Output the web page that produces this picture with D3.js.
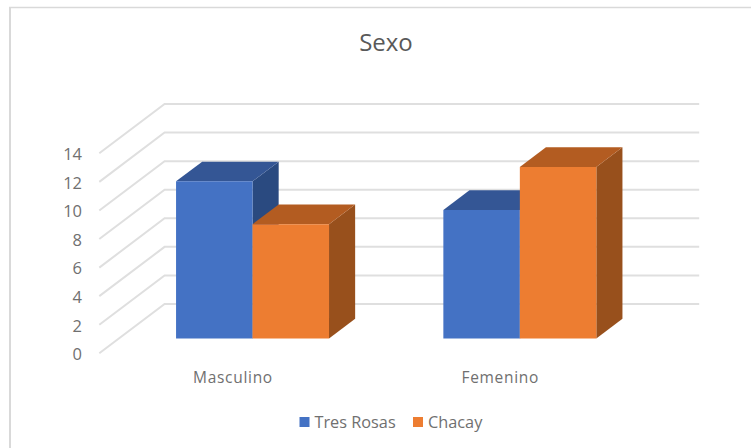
<!DOCTYPE html>
<html>
<head>
<meta charset="utf-8">
<script src="https://cdn.jsdelivr.net/npm/d3@7"></script>
<style>
  html, body { margin: 0; padding: 0; background: #fff; }
  svg { display: block; }
  text { font-family: "Open Sans", "Noto Sans", sans-serif; fill: #707070; }
  .grid { stroke: #dfdfdf; stroke-width: 2; fill: none; }
</style>
</head>
<body>
<div id="chart"></div>
<script>
  "use strict";
  const categories = ["Masculino", "Femenino"];
  const seriesNames = ["Tres Rosas", "Chacay"];
  const tresRosas = [11, 9];
  const chacay = [8, 12];
  const yTicks = [0, 2, 4, 6, 8, 10, 12, 14];
  const frontColors = ["#4472c4", "#ed7d31"];
  const topColors = ["#345695", "#b35c21"];
  const sideColors = ["#2a4a80", "#98501c"];

  const width = 751;
  const height = 448;
  const seriesValues = [tresRosas, chacay];

  const svg = d3
    .select("#chart")
    .append("svg")
    .attr("width", width)
    .attr("height", height)
    .attr("viewBox", `0 0 ${width} ${height}`);

  // Chart frame (cropped at right and bottom in the reference)
  svg
    .append("path")
    .attr("d", "M10,448V7.5")
    .attr("fill", "none")
    .attr("stroke", "#d9d9d9")
    .attr("stroke-width", 2);
  svg
    .append("path")
    .attr("d", "M9,7.5H751")
    .attr("fill", "none")
    .attr("stroke", "#d9d9d9")
    .attr("stroke-width", 1.4);

  // Scales on the front plane, depth runs from 0 (front) to 1 (back wall)
  const x0 = d3
    .scaleBand()
    .domain(categories)
    .range([99.3, 633.9])
    .paddingInner(0.4277)
    .paddingOuter(0.21385);
  const x1 = d3.scaleBand().domain(seriesNames).range([0, x0.bandwidth()]);
  const y = d3.scaleLinear().domain([0, 14]).range([353.3, 153.3]);
  const depthX = d3.scaleLinear().domain([0, 1]).range([0, 65.3]);
  const depthY = d3.scaleLinear().domain([0, 1]).range([0, -49.3]);
  const barFront = 0.3;
  const barBack = 0.7;

  const project = (px, value, z) => [px + depthX(z), y(value) + depthY(z)];
  const poly = (points) => d3.line()(points) + "Z";

  // Gridlines: floor-to-wall diagonal, then along the back wall
  svg
    .append("g")
    .selectAll("path")
    .data(yTicks)
    .enter()
    .append("path")
    .classed("grid", true)
    .attr("d", (d) =>
      d3.line()([
        project(x0.range()[0], d, 0),
        project(x0.range()[0], d, 1),
        project(x0.range()[1], d, 1),
      ])
    );

  // Axis labels
  svg
    .append("g")
    .selectAll("text")
    .data(yTicks)
    .enter()
    .append("text")
    .attr("x", 82)
    .attr("y", (d) => y(d) + 1)
    .attr("dy", "0.35em")
    .attr("text-anchor", "end")
    .attr("font-size", 16.5)
    .text((d) => d);

  svg
    .append("g")
    .selectAll("text")
    .data(categories)
    .enter()
    .append("text")
    .attr("x", (d) => x0(d) + x0.bandwidth() / 2)
    .attr("y", 382.5)
    .attr("text-anchor", "middle")
    .attr("font-size", 15.5)
    .attr("letter-spacing", 0.7)
    .text((d) => d);

  // Bars, one series at a time so the orange hides the blue side
  seriesNames.forEach((name, s) => {
    const bars = svg
      .append("g")
      .selectAll("g")
      .data(categories.map((c, i) => ({ c, value: seriesValues[s][i] })))
      .enter()
      .append("g");
    const left = (d) => x0(d.c) + x1(name);
    const right = (d) => left(d) + x1.bandwidth();

    bars
      .append("path")
      .attr("fill", sideColors[s])
      .attr("d", (d) =>
        poly([
          project(right(d), 0, barFront),
          project(right(d), 0, barBack),
          project(right(d), d.value, barBack),
          project(right(d), d.value, barFront),
        ])
      );
    bars
      .append("path")
      .attr("fill", topColors[s])
      .attr("d", (d) =>
        poly([
          project(left(d), d.value, barFront),
          project(left(d), d.value, barBack),
          project(right(d), d.value, barBack),
          project(right(d), d.value, barFront),
        ])
      );
    bars
      .append("path")
      .attr("fill", frontColors[s])
      .attr("d", (d) =>
        poly([
          project(left(d), 0, barFront),
          project(right(d), 0, barFront),
          project(right(d), d.value, barFront),
          project(left(d), d.value, barFront),
        ])
      );
  });

  // Title
  svg
    .append("text")
    .attr("x", 386)
    .attr("y", 51)
    .attr("text-anchor", "middle")
    .attr("font-size", 24)
    .style("fill", "#595959")
    .text("Sexo");

  // Legend
  const legendX = d3.scaleOrdinal().domain(seriesNames).range([299.5, 413]);
  const legend = svg
    .append("g")
    .selectAll("g")
    .data(seriesNames)
    .enter()
    .append("g")
    .attr("transform", (d) => `translate(${legendX(d)}, 417)`);
  legend
    .append("rect")
    .attr("width", 10)
    .attr("height", 10)
    .attr("fill", (d, i) => frontColors[i]);
  legend
    .append("text")
    .attr("x", 15)
    .attr("y", 10.5)
    .attr("font-size", 16.3)
    .text((d) => d);
</script>
</body>
</html>
